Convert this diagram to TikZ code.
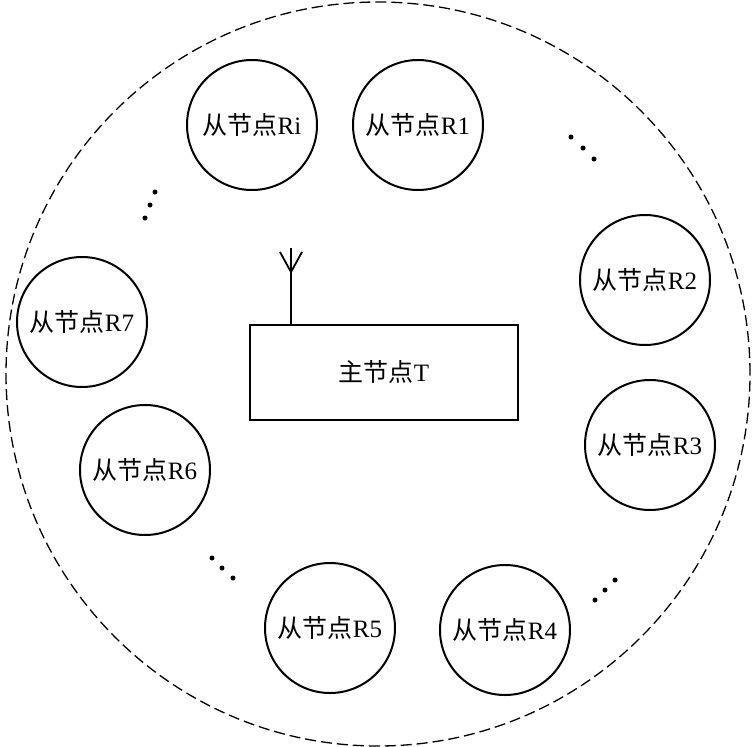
\documentclass[tikz,border=0pt]{standalone}
\usepackage{fontspec}
\setmainfont{Liberation Serif}
\newfontfamily\cjk{Noto Sans CJK SC}
\begin{document}
\begin{tikzpicture}[x=1pt,y=-1pt,
  slave/.style={draw,line width=2pt,circle,minimum size=130pt,inner sep=0pt,font=\fontsize{25}{27}\selectfont},
  dotc/.style={fill,circle,inner sep=0pt,minimum size=5pt}]
\useasboundingbox (0,0) rectangle (753,747);
\node[draw,line width=1.3pt,dash pattern=on 11pt off 5pt,circle,minimum size=744pt,inner sep=0pt] (outer) at (378,374) {};
\node[slave] (ri) at (252,125) {{\cjk 从节点}Ri};
\node[slave] (r1) at (418,125) {{\cjk 从节点}R1};
\node[slave] (r2) at (645,280) {{\cjk 从节点}R2};
\node[slave] (r3) at (650,445) {{\cjk 从节点}R3};
\node[slave] (r4) at (505,630) {{\cjk 从节点}R4};
\node[slave] (r5) at (330,628) {{\cjk 从节点}R5};
\node[slave] (r6) at (145,470) {{\cjk 从节点}R6};
\node[slave] (r7) at (82,322) {{\cjk 从节点}R7};
\node[draw,line width=2pt,minimum width=268pt,minimum height=95pt,font=\fontsize{25}{27}\selectfont] (t) at (384,372) {{\cjk 主节点}T};
\coordinate (a0) at (291,325);
\coordinate (a1) at (291,248);
\coordinate (aj) at (291,272);
\coordinate (al) at (280,252);
\coordinate (ar) at (302,252);
\draw[line width=1.8pt] (a0) -- (a1) (al) -- (aj) -- (ar);
\foreach \n/\x/\y in {a/571/137,b/583/148,c/594/159,d/145/218,e/150/205,f/155/192,g/212/558,h/222/568,i/233/578,j/595/600,k/605/590,l/615/580}
  \node[dotc] (d\n) at (\x,\y) {};
\end{tikzpicture}
\end{document}
